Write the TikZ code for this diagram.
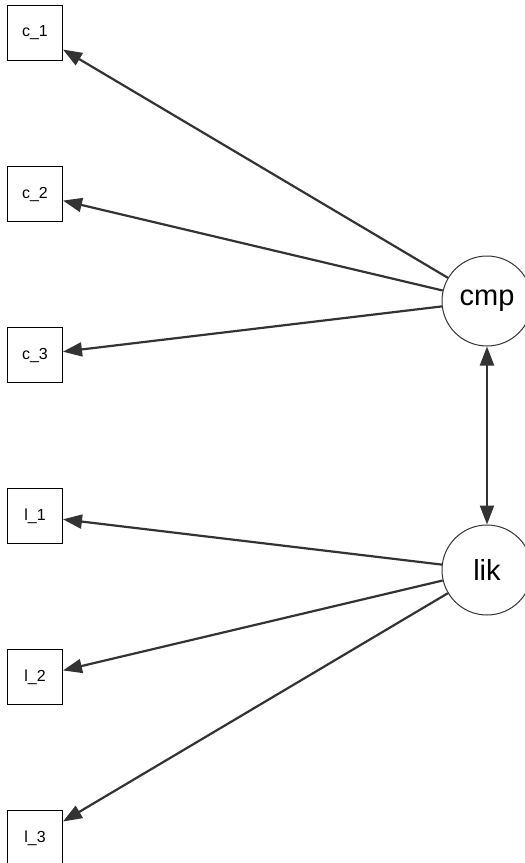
\documentclass[tikz,border=0pt]{standalone}
\usepackage{fontspec}
\setmainfont{Liberation Sans}
\usetikzlibrary{arrows.meta}
\definecolor{edge}{HTML}{333333}
\tikzset{
  obs/.style={draw=black, line width=1pt, minimum width=55pt, minimum height=55pt, inner sep=0pt, font=\fontsize{16}{16}\selectfont, fill=white},
  lat/.style={circle, draw=edge, line width=1pt, minimum size=90pt, inner sep=0pt, font=\fontsize{29}{29}\selectfont, fill=white},
  ld/.style={draw=edge, line width=2.2pt, -{Triangle[length=19pt,width=14pt]}},
  cv/.style={draw=edge, line width=2.2pt, {Triangle[length=19pt,width=14pt]}-{Triangle[length=19pt,width=14pt]}}
}
\begin{document}
\begin{tikzpicture}[x=1pt,y=-1pt]
\useasboundingbox (0,0) rectangle (525,863);
\node[obs] (c1) at (35,33) {c\_1};
\node[obs] (c2) at (35,194) {c\_2};
\node[obs] (c3) at (35,355) {c\_3};
\node[obs] (l1) at (35,516) {l\_1};
\node[obs] (l2) at (35,677) {l\_2};
\node[obs] (l3) at (35,838) {l\_3};
\node[lat] (cmp) at (487,301) {cmp};
\node[lat] (lik) at (487,570) {lik};
\draw[ld] (cmp) -- (c1);
\draw[ld] (cmp) -- (c2);
\draw[ld] (cmp) -- (c3);
\draw[ld] (lik) -- (l1);
\draw[ld] (lik) -- (l2);
\draw[ld] (lik) -- (l3);
\draw[cv] (cmp) -- (lik);
\end{tikzpicture}
\end{document}
